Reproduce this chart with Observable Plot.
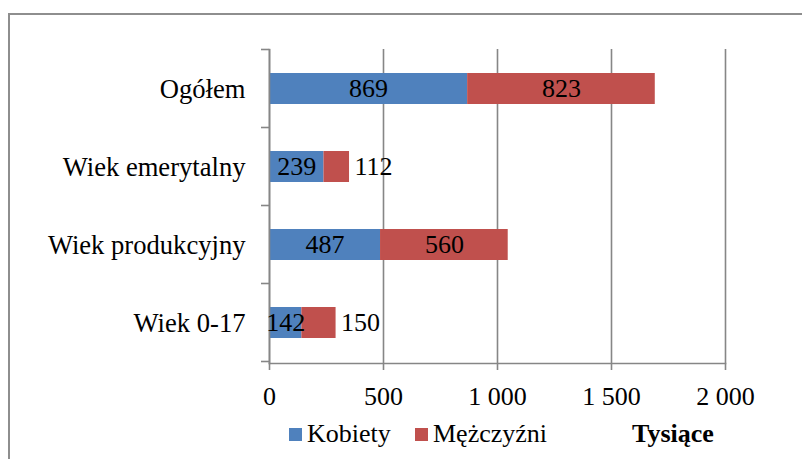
<!DOCTYPE html>
<html>
<head>
<meta charset="utf-8">
<script src="https://cdn.jsdelivr.net/npm/d3@7"></script>
<script src="https://cdn.jsdelivr.net/npm/@observablehq/plot@0.6"></script>
<style>
  html, body { margin: 0; padding: 0; background: #fff; overflow: hidden; }
  #wrap { position: relative; width: 802px; height: 459px; overflow: hidden; font-family: "Liberation Serif", "Times New Roman", serif; }
  #border { position: absolute; left: 8px; top: 13px; width: 900px; height: 600px; border: 2px solid #8e8e8e; box-sizing: border-box; }
  #chart { position: absolute; left: 0; top: 0; }
  .leg { position: absolute; font-size: 26px; color: #000; line-height: 1; white-space: nowrap; }
  .sw { position: absolute; width: 13px; height: 13px; }
</style>
</head>
<body>
<div id="wrap">
  <div id="border"></div>
  <div id="chart"></div>
  <div id="legend"></div>
</div>
<script>
const categories = ["Ogółem", "Wiek emerytalny", "Wiek produkcyjny", "Wiek 0-17"];
const kobiety = [869, 239, 487, 142];
const mezczyzni = [823, 112, 560, 150];
const seriesNames = ["Kobiety", "Mężczyźni"];
const seriesColors = ["#4F81BD", "#C0504D"];
const xTicks = [0, 500, 1000, 1500, 2000];
const unitLabel = "Tysiące";

const rows = [];
categories.forEach((cat, i) => {
  rows.push({cat, sex: seriesNames[0], value: kobiety[i], x1: 0, x2: kobiety[i]});
  rows.push({cat, sex: seriesNames[1], value: mezczyzni[i], x1: kobiety[i], x2: kobiety[i] + mezczyzni[i]});
});
const isOutside = d => d.sex === seriesNames[1] && d.value < 200;
const insideRows = rows.filter(d => !isOutside(d));
const outsideRows = rows.filter(isOutside);

const fmt = d => d3.format(",")(d).replace(/,/g, "\u00a0");
const gray = "#868686";

const chart = Plot.plot({
  width: 802,
  height: 459,
  marginLeft: 269,
  marginRight: 77,
  marginTop: 49,
  marginBottom: 96,
  style: {fontFamily: '"Liberation Serif", "Times New Roman", serif', fontSize: "26px", color: "#000", background: "transparent", overflow: "visible"},
  x: {domain: [0, 2000], label: null},
  y: {domain: categories, paddingInner: 0.6, paddingOuter: 0.3, label: null},
  color: {domain: seriesNames, range: seriesColors},
  marks: [
    Plot.gridX(xTicks, {stroke: gray, strokeOpacity: 1, strokeWidth: 1.6}),
    Plot.barX(rows, {x1: "x1", x2: "x2", y: "cat", fill: "sex"}),
    Plot.frame({anchor: "left", stroke: gray, strokeWidth: 1.6}),
    Plot.frame({anchor: "bottom", stroke: gray, strokeWidth: 1.6}),
    Plot.axisX(xTicks, {tickSize: 7, tickPadding: 16, tickFormat: fmt, stroke: gray, strokeWidth: 1.6, fill: "#000", fontSize: 26, label: null}),
    Plot.axisY({tickSize: 0, tickPadding: 24, fill: "#000", fontSize: 26.6, label: null}),
    Plot.text(insideRows, {x: d => (d.x1 + d.x2) / 2, y: "cat", text: d => String(d.value), fill: "#000", fontSize: 26}),
    Plot.text(outsideRows, {x: "x2", y: "cat", text: d => String(d.value), fill: "#000", fontSize: 26, textAnchor: "start", dx: 5})
  ]
});
document.getElementById("chart").appendChild(chart);

// band-boundary tick marks on the category axis
const ys = chart.scale("y");
const xs = chart.scale("x");
const x0 = xs.apply(0);
const gap = ys.step - ys.bandwidth;
const bounds = categories.map(c => ys.apply(c) - gap / 2);
bounds.push(ys.apply(categories[categories.length - 1]) + ys.bandwidth + gap / 2);
d3.select(chart).append("g")
  .selectAll("line").data(bounds).join("line")
  .attr("x1", x0 - 8).attr("x2", x0)
  .attr("y1", d => d).attr("y2", d => d)
  .attr("stroke", gray).attr("stroke-width", 1.6);

// legend
const legend = document.getElementById("legend");
const legItems = [
  {sw: 289, tx: 307},
  {sw: 415, tx: 433}
];
seriesNames.forEach((name, i) => {
  const s = document.createElement("div");
  s.className = "sw";
  s.style.left = legItems[i].sw + "px";
  s.style.top = "428px";
  s.style.background = seriesColors[i];
  legend.appendChild(s);
  const t = document.createElement("div");
  t.className = "leg";
  t.style.left = legItems[i].tx + "px";
  t.style.top = "421px";
  t.textContent = name;
  legend.appendChild(t);
});
const u = document.createElement("div");
u.className = "leg";
u.style.left = "632px";
u.style.top = "421px";
u.style.fontWeight = "bold";
u.textContent = unitLabel;
legend.appendChild(u);
</script>
</body>
</html>
